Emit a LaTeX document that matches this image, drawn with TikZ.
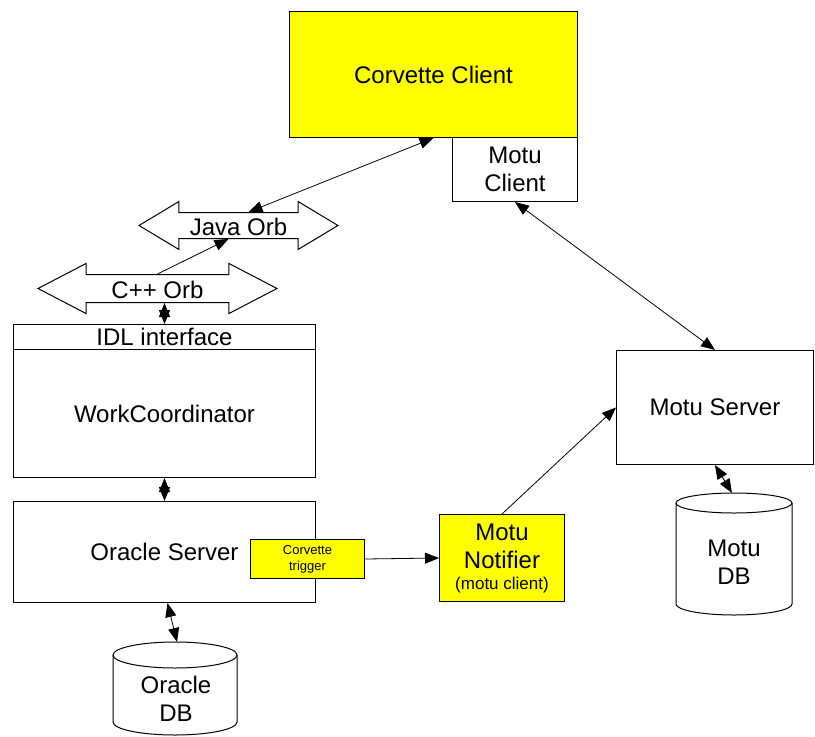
\documentclass[tikz,border=0pt]{standalone}
\usepackage{fontspec}
\setmainfont{Liberation Sans}
\usetikzlibrary{shapes.arrows,arrows.meta}
\definecolor{noteyellow}{RGB}{255,255,0}

\tikzset{
  txt/.style={font=\fontsize{24}{28}\selectfont},
  box/.style={draw,line width=1pt,rectangle,inner sep=0pt,anchor=north west,align=center,txt},
  hilite/.style={box,fill=noteyellow},
  orb/.style={draw,line width=1pt,double arrow,inner sep=0pt,double arrow head indent=0pt,txt},
  link/.style={line width=0.8pt,-{Triangle[length=14pt,width=11pt]}},
  bothway/.style={line width=0.8pt,{Triangle[length=14pt,width=11pt]}-{Triangle[length=14pt,width=11pt]}},
}

\begin{document}
\begin{tikzpicture}[x=1pt,y=-1pt]
\useasboundingbox (0,0) rectangle (815,737);

% clients
\node[hilite,minimum width=288pt,minimum height=126pt] (corvette) at (289,11) {Corvette Client};
\node[box,minimum width=125pt,minimum height=64pt] (motuclient) at (452,137) {Motu\\Client};

% orbs
\node[orb,minimum height=199pt,minimum width=47pt,double arrow head extend=11pt,
      double arrow tip angle=62,text height=22pt,text depth=3pt] (javaorb) at (238.5,225.5) {Java Orb};
\node[orb,minimum height=239pt,minimum width=49pt,double arrow head extend=11pt,
      double arrow tip angle=55,text height=23pt,text depth=4pt] (cpporb) at (157.5,288.5) {C++ Orb};

% work coordinator
\node[box,minimum width=302pt,minimum height=25pt] (idl) at (13,324) {IDL interface};
\node[box,minimum width=302pt,minimum height=128pt] (workc) at (13,349) {WorkCoordinator};

% oracle
\node[box,minimum width=302pt,minimum height=101pt] (oracle) at (13,501) {Oracle Server};
\node[hilite,minimum width=114pt,minimum height=39pt,font=\fontsize{13}{16}\selectfont] (trigger) at (250,539) {Corvette\\trigger};

% motu side
\node[hilite,minimum width=125pt,minimum height=87pt] (notifier) at (439,514) {Motu\\Notifier\\[-7pt]{\fontsize{17}{18}\selectfont(motu client)}};
\node[box,minimum width=197pt,minimum height=114pt] (motuserver) at (616,350) {Motu Server};

% databases
\draw[line width=1pt] (113,655) -- (113,722) arc[start angle=180,end angle=360,x radius=62pt,y radius=13pt] -- (237,655);
\draw[line width=1pt] (175,655) ellipse[x radius=62pt,y radius=13pt];
\node[align=center,txt] (oracledb) at (176,699) {Oracle\\DB};
\coordinate (odbtop) at (177,642);

\draw[line width=1pt] (676,503) -- (676,604) arc[start angle=180,end angle=360,x radius=58pt,y radius=11pt] -- (792,503);
\draw[line width=1pt] (734,503) ellipse[x radius=58pt,y radius=10pt];
\node[align=center,txt] (motudb) at (734,562) {Motu\\DB};
\coordinate (mdbtop) at (732,493);

% connectors
\draw[bothway] (corvette.south) -- ([xshift=10pt]javaorb.north);
\draw[link] (cpporb.north) -- ([xshift=-10pt]javaorb.south);
\draw[bothway] (idl.north |- cpporb.south) -- (idl.north);
\draw[bothway] (workc.south) -- (oracle.north);
\draw[bothway] ([xshift=3pt]oracle.south) -- (odbtop);
\draw[link] (trigger.east) -- (notifier.west);
\draw[link] (notifier.north) -- (motuserver.west);
\draw[bothway] (motuclient.south) -- (motuserver.north);
\draw[bothway] (motuserver.south) -- (mdbtop);
\end{tikzpicture}
\end{document}
